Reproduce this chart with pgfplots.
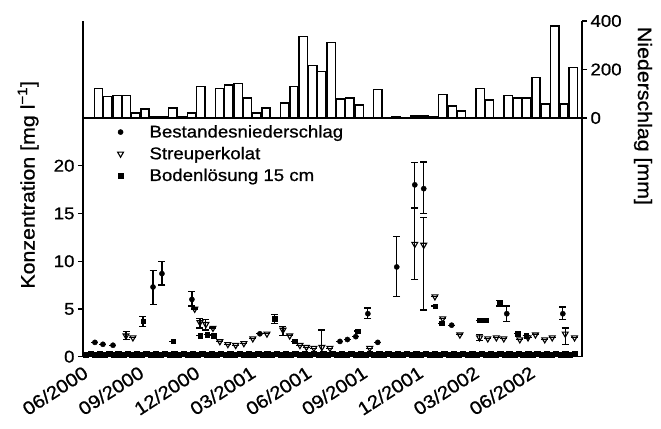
\documentclass[border=0pt]{standalone}
\usepackage{fontspec}
\setmainfont{Liberation Sans}[FakeStretch=1.1, FakeBold=0.8]
\usepackage{pgfplots}
\pgfplotsset{compat=1.18}

\newcommand{\chartfont}{\fontsize{17}{20}\selectfont}
\newcommand{\labfont}{\fontsize{19.5}{22}\selectfont}

\pgfplotsset{
  every axis/.append style={
    scale only axis,
    width=499bp,
    xmin=0, xmax=26.8,
    axis line style={line width=1.5pt},
    tick style={line width=1.2pt, black},
    tick align=outside,
    major tick length=5bp,
    tick label style={font=\chartfont},
    /pgf/number format/assume math mode=true,
  },
  ebar/.style={
    error bars/y dir=both,
    error bars/y explicit,
    error bars/error bar style={line width=1.2pt},
    error bars/error mark options={line width=1.2pt, mark size=3.5bp, rotate=90},
  },
}

\begin{document}
\begin{tikzpicture}
\useasboundingbox (-83bp,-72.3bp) rectangle (578bp,356.7bp);

% lower panel: concentrations
\begin{axis}[
  name=lower,
  height=238.7bp,
  ymin=0, ymax=25,
  ytick={0,5,10,15,20},
  ytick pos=left,
  xtick={0,3,6,9,12,15,18,21,24},
  xticklabels={06/2000,09/2000,12/2000,03/2001,06/2001,09/2001,12/2001,03/2002,06/2002},
  xtick pos=bottom,
  x tick style={draw=none},
  xticklabel style={font=\fontsize{18.5}{21}\selectfont, rotate=33, anchor=east, xshift=1bp, yshift=-9bp},
  ylabel={Konzentration [mg l\textsuperscript{−1}]},
  every axis y label/.style={at={(rel axis cs:-0.11,0.72)}, rotate=90, anchor=center, font=\labfont},
  legend style={at={(rel axis cs:0.069,0.979)}, anchor=north west, draw=none, fill=none,
    inner sep=0pt, row sep=4bp, font=\chartfont,
    /tikz/every odd column/.append style={column sep=24bp}},
  legend cell align=left,
]
\addplot[only marks, mark=*, mark size=2.6bp, black, ebar]
  table[x=x, y=y, y error plus=ep, y error minus=em] {
x     y    ep   em
0.64  1.5  0    0
1.07  1.3  0    0
1.61  1.2  0    0
3.76  7.3  1.7  1.8
4.24  8.7  1.3  1.2
5.85  6.0  0.8  0.7
9.50  2.4  0    0
13.80 1.6  0    0
14.20 1.8  0    0
14.65 2.1  0    0
15.30 4.5  0.6  0.5
15.83 1.5  0    0
16.85 9.4  3.2  3.1
17.82 18.0 2.3  2.4
18.30 17.6 2.8  2.6
19.80 3.3  0    0
22.76 4.5  0.8  0.8
25.77 4.5  0.7  0.6
};
\addlegendentry{Bestandesniederschlag}

\addplot[only marks, mark=triangle, mark options={rotate=180, fill=white, line width=1.1pt}, mark size=3.4bp, black, ebar]
  table[x=x, y=y, y error plus=ep, y error minus=em] {
x     y    ep   em
2.31  2.2  0.4  0.4
2.68  2.0  0    0
6.00  5.0  0    0
6.28  3.6  0.4  0.6
6.60  3.4  0.5  0.6
6.98  3.0  0    0
7.35  1.6  0    0
7.78  1.3  0    0
8.20  1.2  0    0
8.64  1.4  0    0
9.12  1.9  0    0
9.88  2.4  0    0
10.74 2.8  0.4  0.6
11.10 2.2  0    0
11.65 1.2  0    0
12.00 1.0  0    0
12.40 0.9  0    0
12.83 1.0  1.8  0.7
13.26 0.9  0    0
15.40 0.9  0    0
17.82 11.8 3.7  3.7
18.30 11.7 2.9  6.8
18.90 6.3  0    0
19.32 4.0  0    0
20.24 2.3  0    0
21.30 2.0  0.3  0.3
21.74 1.9  0    0
22.20 2.0  0    0
22.60 1.9  0    0
23.46 1.8  0    0
23.90 2.0  0    0
24.30 2.3  0    0
24.80 1.8  0    0
25.20 2.0  0    0
25.90 2.4  0.6  1.1
26.40 2.0  0    0
};
\addlegendentry{Streuperkolat}

\addplot[only marks, mark=square*, mark size=2.2bp, black, ebar]
  table[x=x, y=y, y error plus=ep, y error minus=em] {
x     y    ep   em
3.22  3.7  0.5  0.5
4.83  1.6  0    0
6.28  2.2  0    0
6.66  2.3  0    0
7.03  2.2  0    0
10.30 4.0  0.4  0.5
11.38 1.6  0    0
14.76 2.7  0    0
18.90 5.3  0    0
19.27 3.5  0    0
21.30 3.8  0    0
21.63 3.8  0    0
22.38 5.6  0.3  0.3
23.35 2.4  0    0
23.80 2.2  0    0
};
\addlegendentry{Bodenlösung 15 cm}

% dense near-zero values along the bottom
\addplot[only marks, mark=square*, mark size=2.7bp, black, forget plot] coordinates {
(0.15,0.2) (0.40,0.3) (0.65,0.2) (0.90,0.25) (1.15,0.2) (1.40,0.3) (1.65,0.2) (1.90,0.25)
(2.15,0.2) (2.40,0.3) (2.65,0.2) (2.90,0.25) (3.15,0.2) (3.40,0.3) (3.65,0.2) (3.90,0.25)
(4.15,0.2) (4.40,0.3) (4.65,0.2) (4.90,0.25) (5.15,0.2) (5.40,0.3) (5.65,0.2) (5.90,0.25)
(6.15,0.2) (6.40,0.3) (6.65,0.2) (6.90,0.25) (7.15,0.2) (7.40,0.3) (7.65,0.2) (7.90,0.25)
(8.15,0.2) (8.40,0.3) (8.65,0.2) (8.90,0.25) (9.15,0.2) (9.40,0.3) (9.65,0.2) (9.90,0.25)
(10.15,0.2) (10.40,0.3) (10.65,0.2) (10.90,0.25) (11.15,0.2) (11.40,0.3) (11.65,0.2) (11.90,0.25)
(12.15,0.2) (12.40,0.3) (12.65,0.2) (12.90,0.25) (13.15,0.2) (13.40,0.3) (13.65,0.2) (13.90,0.25)
(14.15,0.2) (14.40,0.3) (14.65,0.2) (14.90,0.25) (15.15,0.2) (15.40,0.3) (15.65,0.2) (15.90,0.25)
(16.15,0.2) (16.40,0.3) (16.65,0.2) (16.90,0.25) (17.15,0.2) (17.40,0.3) (17.65,0.2) (17.90,0.25)
(18.15,0.2) (18.40,0.3) (18.65,0.2) (18.90,0.25) (19.15,0.2) (19.40,0.3) (19.65,0.2) (19.90,0.25)
(20.15,0.2) (20.40,0.3) (20.65,0.2) (20.90,0.25) (21.15,0.2) (21.40,0.3) (21.65,0.2) (21.90,0.25)
(22.15,0.2) (22.40,0.3) (22.65,0.2) (22.90,0.25) (23.15,0.2) (23.40,0.3) (23.65,0.2) (23.90,0.25)
(24.15,0.2) (24.40,0.3) (24.65,0.2) (24.90,0.25) (25.15,0.2) (25.40,0.3) (25.65,0.2) (25.90,0.25)
(26.15,0.2) (26.40,0.3)
};
\end{axis}

% upper panel: precipitation
\begin{axis}[
  name=upper,
  at={(lower.north west)}, anchor=south west,
  height=97bp,
  ymin=0, ymax=400,
  ytick={0,200,400},
  axis x line=none,
  axis y line=box,
  ytick pos=right,
  yticklabel pos=right,
]
\addplot[ybar, bar width=0.45, draw=black, fill=white, line width=1.5pt] table {
x     y
0.83  121
1.33  88
1.83  92
2.33  92
2.83  21
3.33  37
3.83  5
4.33  5
4.83  42
5.33  5
5.83  21
6.33  129
6.83  3
7.33  121
7.83  137
8.33  142
8.83  83
9.33  21
9.83  42
10.33 3
10.83 62
11.33 129
11.83 337
12.33 217
12.83 192
13.33 312
13.83 79
14.33 83
14.83 54
15.33 3
15.83 117
16.33 3
16.83 5
17.33 3
17.83 8
18.33 8
18.83 5
19.33 96
19.83 50
20.33 29
20.83 3
21.33 121
21.83 75
22.33 3
22.83 92
23.33 83
23.83 83
24.33 167
24.83 58
25.33 379
25.83 58
26.33 208
};
\end{axis}
\node[rotate=-90, anchor=center, font=\labfont] at ([xshift=61bp,yshift=2bp]upper.south east) {Niederschlag [mm]};
\end{tikzpicture}
\end{document}
